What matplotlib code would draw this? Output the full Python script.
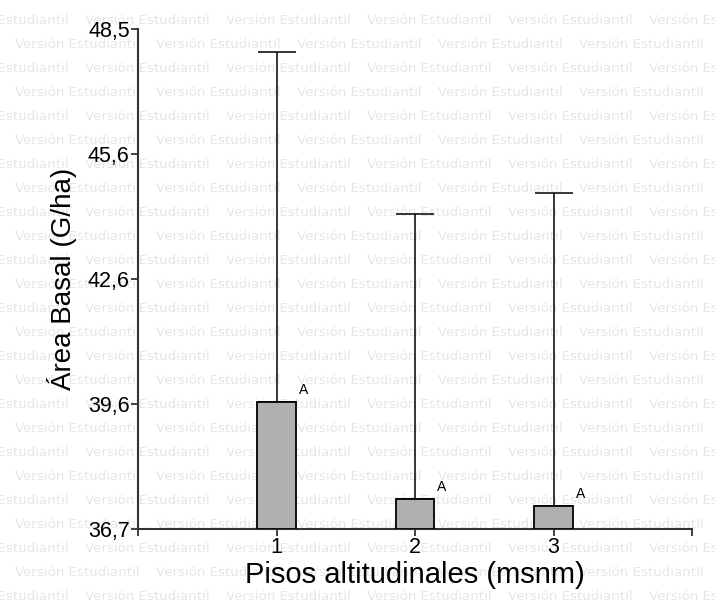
import matplotlib
matplotlib.use("Agg")
import matplotlib.pyplot as plt

# data
pisos = [1, 2, 3]
area_basal = [39.70, 37.41, 37.24]
error_sup = [8.26, 6.72, 7.39]
letras = ["A", "A", "A"]
y_ticks = [36.7, 39.65, 42.6, 45.55, 48.5]
y_labels = ["36,7", "39,6", "42,6", "45,6", "48,5"]
x_ticks = [0, 1, 2, 3, 4]
x_labels = ["", "1", "2", "3", ""]

plt.rcParams["font.family"] = ["Liberation Sans", "DejaVu Sans"]

W, H = 715, 603
fig = plt.figure(figsize=(W / 100, H / 100), dpi=100)

# watermark behind everything
period = 141
row_h = 24
for r in range(26):
    y = 20 + r * row_h
    start = -56 if r % 2 == 0 else 15
    x = start
    while x < W:
        fig.text(x / W, 1 - y / H, "Versión Estudiantil", fontsize=9.6,
                 family="DejaVu Sans", color="#e6e6e6", va="center",
                 ha="left", zorder=-5)
        x += period

ax = fig.add_axes([138 / W, 1 - 529 / H, (692 - 138) / W, (529 - 29) / H])
ax.patch.set_alpha(0)

ax.bar(pisos, [v - y_ticks[0] for v in area_basal], bottom=y_ticks[0],
       width=0.275, color="#b0b0b0", edgecolor="black", linewidth=1.3,
       zorder=3)
ax.errorbar(pisos, area_basal, yerr=[[0] * 3, error_sup], fmt="none",
            ecolor="black", elinewidth=1.1, capsize=13.7, capthick=1.1,
            zorder=2)
for x, v, l in zip(pisos, area_basal, letras):
    ax.text(x + 0.16, v + 0.12, l, fontsize=10, ha="left", va="bottom")

ax.set_xlim(0, 4)
ax.set_ylim(36.7, 48.5)
ax.set_yticks(y_ticks)
ax.set_yticklabels(y_labels, fontsize=15.5)
ax.set_xticks(x_ticks)
ax.set_xticklabels(x_labels, fontsize=15.5)

for s in ["top", "right"]:
    ax.spines[s].set_visible(False)
for s in ["left", "bottom"]:
    ax.spines[s].set_color("#333333")
    ax.spines[s].set_linewidth(1.5)
ax.tick_params(direction="out", length=5, width=1.3, color="#333333", pad=1)

ax.set_xlabel("Pisos altitudinales (msnm)", fontsize=21, labelpad=2)
ax.set_ylabel("Área Basal (G/ha)", fontsize=20, labelpad=8)

fig.savefig("out.png", dpi=100)
